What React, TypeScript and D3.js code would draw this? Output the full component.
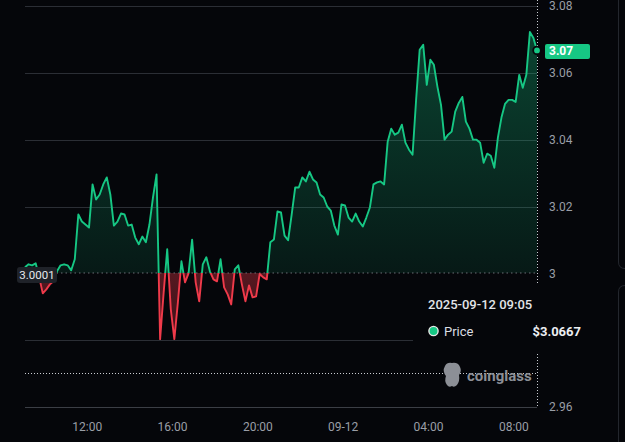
import React from 'react'
import * as d3 from 'd3'

// 10-minute closes, 2025-09-11 09:05 -> 2025-09-12 09:05
const prices = [
    3.0018, 3.0027, 3.0024, 3.003, 2.9988, 2.994, 2.9952, 2.9967, 2.9976, 3.0006,
    3.0024, 3.0027, 3.0024, 3.0009, 3.0042, 3.0176, 3.0155, 3.0146, 3.0137, 3.0266,
    3.0221, 3.0236, 3.0266, 3.0287, 3.0236, 3.0143, 3.0155, 3.0179, 3.0176, 3.0143,
    3.0146, 3.0107, 3.0087, 3.011, 3.0093, 3.0146, 3.0227, 3.0296, 2.9803, 2.9943,
    3.0072, 2.9893, 2.9803, 2.9913, 3.0036, 2.9973, 3.0, 3.0101, 2.9973, 2.9916,
    3.0027, 3.0048, 3.0006, 2.9982, 2.9976, 3.0042, 2.9958, 2.9937, 2.9907, 3.0012,
    3.0024, 2.9967, 2.9916, 2.9964, 2.9928, 2.9931, 2.9998, 2.9988, 2.9982, 3.0093,
    3.0101, 3.0185, 3.0182, 3.0113, 3.0099, 3.0176, 3.0257, 3.0257, 3.0287, 3.0275,
    3.0304, 3.0281, 3.0272, 3.0236, 3.0227, 3.02, 3.0188, 3.0143, 3.0116, 3.0206,
    3.0203, 3.0167, 3.0155, 3.0179, 3.0155, 3.014, 3.0167, 3.0197, 3.0266, 3.0272,
    3.0275, 3.0266, 3.0394, 3.0433, 3.0415, 3.0421, 3.0445, 3.0391, 3.037, 3.0355,
    3.0519, 3.0669, 3.0684, 3.0564, 3.0639, 3.0624, 3.0558, 3.0504, 3.04, 3.0415,
    3.0424, 3.0484, 3.051, 3.0528, 3.0454, 3.0433, 3.04, 3.04, 3.0391, 3.0331,
    3.0358, 3.0352, 3.0316, 3.0406, 3.0466, 3.0507, 3.0519, 3.0519, 3.0513, 3.0594,
    3.0555, 3.0594, 3.0722, 3.0704, 3.0667
]
const startTime = new Date(2025, 8, 11, 9, 5)
const endTime = new Date(2025, 8, 12, 9, 5)
const baseline = 3.0001

const xTickTimes = [
    new Date(2025, 8, 11, 12, 0),
    new Date(2025, 8, 11, 16, 0),
    new Date(2025, 8, 11, 20, 0),
    new Date(2025, 8, 12, 0, 0),
    new Date(2025, 8, 12, 4, 0),
    new Date(2025, 8, 12, 8, 0)
]
const xTickLabels = ['12:00', '16:00', '20:00', '09-12', '04:00', '08:00']
const yTicks = [3.08, 3.06, 3.04, 3.02, 3, 2.98, 2.96]
// 2.98 label sits under the tooltip, so it is not drawn
const yTickLabels = ['3.08', '3.06', '3.04', '3.02', '3', '', '2.96']

const tooltipTime = '2025-09-12 09:05'
const tooltipPrice = '$3.0667'
const lastLabel = '3.07'
const hoverPrice = 2.9703

const W = 625
const H = 442
const margin = { top: 6, right: 88, bottom: 35, left: 25 }
const BG = '#05060a'
const GREEN = '#16c784'
const RED = '#ef3a4a'
const FONT = 'Roboto, "Noto Sans", sans-serif'

export default function App() {
    const data = prices.map((p, i) => ({ t: new Date(startTime.getTime() + i * 600000), p }))

    const x = d3.scaleTime().domain([startTime, endTime]).range([margin.left, W - margin.right])
    const y = d3.scaleLinear().domain([2.96, 3.08]).range([H - margin.bottom, margin.top])
    const yBase = y(baseline)
    const x0 = margin.left
    const x1 = W - margin.right

    const line = d3
        .line<{ t: Date; p: number }>()
        .x((d) => x(d.t))
        .y((d) => y(d.p))
    const area = d3
        .area<{ t: Date; p: number }>()
        .x((d) => x(d.t))
        .y0(yBase)
        .y1((d) => y(d.p))

    const last = data[data.length - 1]
    const linePath = line(data) || ''
    const areaPath = area(data) || ''

    return (
        <svg
            width={W}
            height={H}
            style={{ position: 'fixed', left: 0, top: 0, display: 'block', background: BG }}
            fontFamily={FONT}
        >
            <defs>
                <clipPath id="above">
                    <rect x={0} y={0} width={W} height={yBase} />
                </clipPath>
                <clipPath id="below">
                    <rect x={0} y={yBase} width={W} height={H - yBase} />
                </clipPath>
                <linearGradient id="gFill" gradientUnits="userSpaceOnUse" x1={0} y1={y(3.073)} x2={0} y2={yBase}>
                    <stop offset="0" stopColor={GREEN} stopOpacity={0.32} />
                    <stop offset="1" stopColor={GREEN} stopOpacity={0.1} />
                </linearGradient>
                <linearGradient id="rFill" gradientUnits="userSpaceOnUse" x1={0} y1={yBase} x2={0} y2={y(2.98)}>
                    <stop offset="0" stopColor={RED} stopOpacity={0.35} />
                    <stop offset="1" stopColor={RED} stopOpacity={0.22} />
                </linearGradient>
            </defs>
            <rect width={W} height={H} fill={BG} />

            {/* grid */}
            {yTicks.map((v) => (
                <line
                    key={v}
                    x1={x0}
                    x2={x1}
                    y1={Math.round(y(v)) + 0.5}
                    y2={Math.round(y(v)) + 0.5}
                    stroke={v === 2.96 ? '#3b3e45' : '#2b2e35'}
                    strokeWidth={1}
                    opacity={v === 3 ? 0 : 1}
                />
            ))}

            {/* fills */}
            <path d={areaPath} fill="url(#gFill)" clipPath="url(#above)" />
            <path d={areaPath} fill="url(#rFill)" clipPath="url(#below)" />

            {/* baseline */}
            <line
                x1={x0}
                x2={x1}
                y1={yBase}
                y2={yBase}
                stroke="#6b6e75"
                strokeWidth={1}
                strokeDasharray="1.5 3"
            />

            {/* price line */}
            <path d={linePath} fill="none" stroke={GREEN} strokeWidth={1.9} strokeLinejoin="round" clipPath="url(#above)" />
            <path d={linePath} fill="none" stroke={RED} strokeWidth={1.9} strokeLinejoin="round" clipPath="url(#below)" />

            {/* crosshair */}
            <line
                x1={x1 + 0.5}
                x2={x1 + 0.5}
                y1={0}
                y2={H - margin.bottom}
                stroke="#c9ccd2"
                strokeWidth={1}
                strokeDasharray="1 2"
            />
            <line
                x1={x0}
                x2={x1}
                y1={Math.round(y(hoverPrice)) + 0.5}
                y2={Math.round(y(hoverPrice)) + 0.5}
                stroke="#c9ccd2"
                strokeWidth={1}
                strokeDasharray="1 2"
            />

            <circle cx={x(last.t)} cy={y(last.p)} r={3.8} fill={GREEN} stroke={BG} strokeWidth={1.8} />

            {/* y axis */}
            {yTicks.map((v, i) =>
                yTickLabels[i] ? (
                    <text key={v} x={549} y={y(v)} dy="0.35em" fontSize={12} fill="#9a9ea6">
                        {yTickLabels[i]}
                    </text>
                ) : null
            )}
            <rect x={545} y={44} width={45} height={15} rx={2} fill={GREEN} />
            <text x={549} y={y(last.p)} dy="0.36em" fontSize={12} fontWeight={700} fill="#ffffff">
                {lastLabel}
            </text>

            {/* x axis */}
            {xTickTimes.map((t, i) => (
                <text key={i} x={x(t)} y={H - 11} textAnchor="middle" fontSize={12} fill="#9a9ea6">
                    {xTickLabels[i]}
                </text>
            ))}

            {/* baseline label */}
            <rect x={17} y={267} width={40} height={16} rx={3} fill="#1f2229" />
            <text x={37} y={275} dy="0.35em" textAnchor="middle" fontSize={11.5} fill="#e6e8ec">
                {baseline.toFixed(4)}
            </text>

            {/* watermark */}
            <g fill="#8c8f96">
                <path d="M445,366 q2,-4 7,-3 q6,-1 8,4 q2,4 -1,8 q1,6 -2,10 q-3,3 -5,1 q-3,2 -5,-1 q-3,-4 -1,-9 q-4,-5 -1,-10 z" />
                <text x={467} y={381} fontSize={15} fontWeight={700}>
                    coinglass
                </text>
            </g>

            {/* tooltip */}
            <rect x={413} y={284} width={183} height={68} fill={BG} />
            <text x={428} y={309} fontSize={13} fontWeight={500} fill="#e2e4e8">
                {tooltipTime}
            </text>
            <circle cx={433.5} cy={331} r={4.6} fill={GREEN} stroke="#e8e8e8" strokeWidth={1.4} />
            <text x={444} y={336} fontSize={13} fill="#dcdee2">
                Price
            </text>
            <text x={581} y={336} textAnchor="end" fontSize={13} fontWeight={700} fill="#eceef2">
                {tooltipPrice}
            </text>

            {/* side panels */}
            <path d="M618.5,0 V262 Q618.5,268.5 625,268.5" fill="none" stroke="#23262d" strokeWidth={1} />
            <path d="M625,285.5 Q618.5,285.5 618.5,292 V442" fill="none" stroke="#23262d" strokeWidth={1} />
        </svg>
    )
}
